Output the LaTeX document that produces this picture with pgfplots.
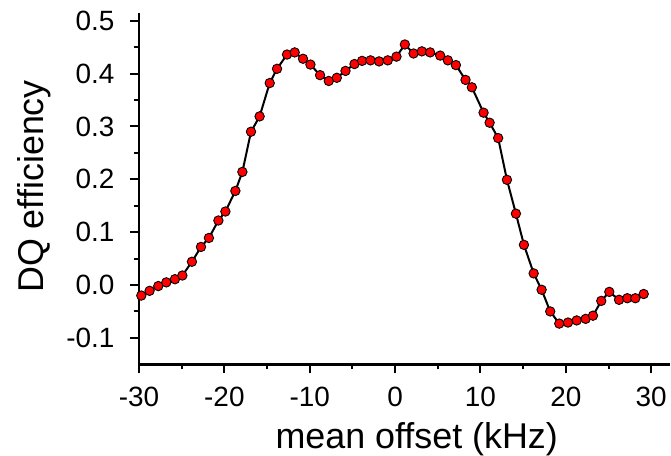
\documentclass[border=0pt]{standalone}
\usepackage{pgfplots}
\pgfplotsset{compat=1.18}
\usepackage{fontspec}
\setmainfont{Liberation Sans}
\begin{document}
\begin{tikzpicture}
\begin{axis}[
  name=ax,
  width=531bp, height=351bp, scale only axis,
  xmin=-30, xmax=32.2, ymin=-0.15, ymax=0.514,
  axis x line*=bottom, axis y line*=left,
  axis line style={line width=2.6bp},
  tick align=outside,
  major tick length=9bp, minor tick length=5bp,
  every tick/.style={black, line width=2bp},
  xtick={-30,-20,...,30},
  xticklabels={-30,-20,-10,0,10,20,30},
  minor xtick={-25,-15,...,25},
  ytick={-0.1,0,0.1,0.2,0.3,0.4,0.5},
  yticklabels={-0.1,0.0,0.1,0.2,0.3,0.4,0.5},
  minor ytick={-0.05,0.05,0.15,0.25,0.35,0.45},
  tick label style={font=\fontsize{28}{28}\selectfont},
  xticklabel style={yshift=-10bp},
  yticklabel style={xshift=-12bp},
  xlabel={mean offset (kHz)},
  ylabel={DQ efficiency},
  label style={font=\fontsize{36}{36}\selectfont},
  xlabel style={at={(axis description cs:0.523,-0.2385)}, anchor=base},
  ylabel style={at={(axis description cs:-0.1802,0.5066)}, anchor=base, rotate=0},
]
\addplot[black, line width=2bp, mark=*, mark size=4.7bp,
  mark options={fill=red, draw=black, line width=0.9bp}] coordinates {
(-29.73,-0.020) (-28.76,-0.011) (-27.74,-0.002) (-26.80,0.005) (-25.79,0.011)
(-24.92,0.018) (-23.80,0.044) (-22.74,0.072) (-21.81,0.089) (-20.70,0.122)
(-19.88,0.139) (-18.71,0.178) (-17.89,0.214) (-16.88,0.290) (-15.87,0.319)
(-14.69,0.382) (-13.83,0.409) (-12.66,0.436) (-11.76,0.440) (-10.79,0.428)
(-9.92,0.417) (-8.79,0.397) (-7.77,0.386) (-6.83,0.392) (-5.81,0.405)
(-4.76,0.418) (-3.87,0.424) (-2.88,0.425) (-1.88,0.423) (-0.86,0.425)
(0.16,0.432) (1.14,0.455) (2.16,0.438) (3.13,0.442) (4.10,0.440)
(5.28,0.434) (6.18,0.425) (7.12,0.416) (8.25,0.388) (8.99,0.374)
(10.36,0.326) (11.07,0.307) (12.07,0.278) (13.10,0.199) (14.15,0.135)
(15.09,0.076) (16.23,0.022) (17.16,-0.009) (18.17,-0.050) (19.23,-0.073)
(20.25,-0.071) (21.27,-0.067) (22.32,-0.064) (23.18,-0.058) (24.15,-0.030)
(25.09,-0.013) (26.23,-0.028) (27.20,-0.025) (28.14,-0.025) (29.12,-0.017)
};
\end{axis}
\pgfresetboundingbox
\path[use as bounding box] ([shift={(-139bp,-91.7bp)}]ax.south west) rectangle ([shift={(532bp,364.3bp)}]ax.south west);
\end{tikzpicture}
\end{document}
